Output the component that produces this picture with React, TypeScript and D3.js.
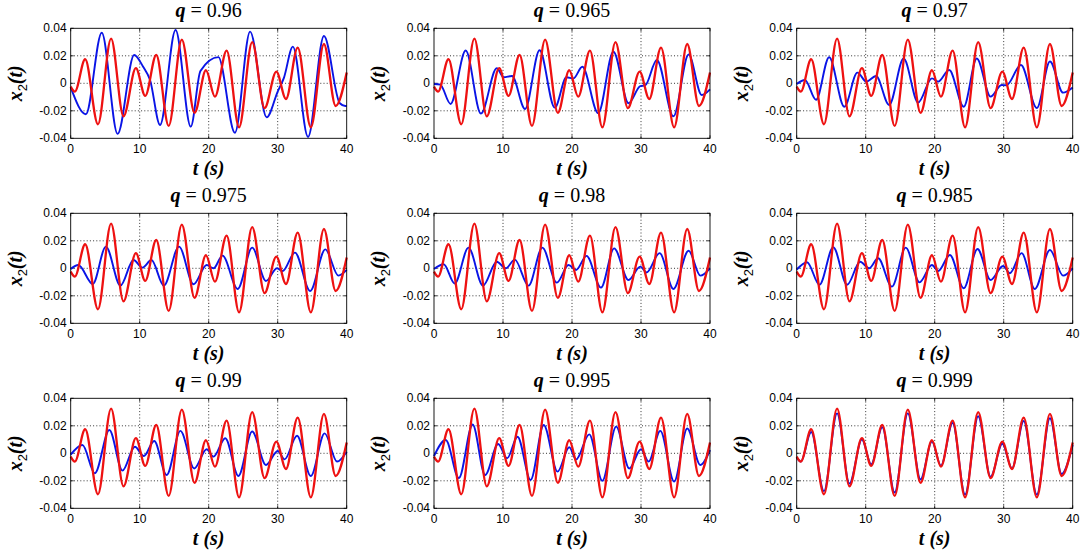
import React from 'react';
import * as d3 from 'd3';

type Pt = [number, number];

const Q_LABELS = ['0.96', '0.965', '0.97', '0.975', '0.98', '0.985', '0.99', '0.995', '0.999'];
const T_TICKS = [0, 10, 20, 30, 40];
const X2_TICKS = [-0.04, -0.02, 0, 0.02, 0.04];
const X2_TICK_LABELS = ['-0.04', '-0.02', '0', '0.02', '0.04'];

// Reference (red) response — identical in every panel
const RED: Pt[] = [
  [0, -0.0024], [0.6, -0.006], [2.1, 0.0175], [3.95, -0.0298], [5.85, 0.0325], [7.65, -0.024],
  [9.45, 0.011], [10.8, -0.0092], [12.4, 0.0206], [14.2, -0.031], [16.1, 0.0318], [17.95, -0.0215],
  [19.6, 0.0095], [20.9, -0.0097], [22.6, 0.0238], [24.4, -0.032], [26.3, 0.030], [28.1, -0.018],
  [29.8, 0.0085], [31.2, -0.0114], [32.9, 0.026], [34.8, -0.032], [36.7, 0.0286], [38.4, -0.0165],
  [40, 0.0078],
];

const BLUE_0960: Pt[] = [
  [0, -0.003], [2.2, -0.0225], [4.5, 0.0368], [6.8, -0.0368], [9.2, 0.0206], [10.5, 0.012],
  [11.5, 0.0024], [12.95, -0.0303], [15.2, 0.0388], [17.4, -0.0315], [18.8, 0.009], [21.4, 0.019],
  [23.8, -0.036], [26.0, 0.0376], [28.4, -0.0247], [30.0, -0.006], [30.9, 0.004], [32.2, 0.0267],
  [34.4, -0.039], [36.7, 0.0344], [39.0, -0.0145], [39.8, -0.0165], [40, -0.0165],
];
const BLUE_0965: Pt[] = [
  [0, -0.0005], [0.9, -0.001], [2.4, -0.015], [4.6, 0.0238], [6.8, -0.022], [9.1, 0.011],
  [10.1, 0.0044], [11.3, 0.0053], [13.2, -0.0187], [15.3, 0.024], [17.5, -0.0177], [19.2, 0.0044],
  [20.2, 0.0036], [21.5, 0.012], [23.8, -0.0218], [26.0, 0.023], [28.2, -0.0145], [29.9, -0.002],
  [30.6, -0.0015], [32.3, 0.017], [34.7, -0.024], [36.9, 0.021], [38.8, -0.0085], [40, -0.0044],
];
const BLUE_0970: Pt[] = [
  [0, -0.0005], [1.2, 0.0024], [2.8, -0.012], [4.7, 0.019], [6.9, -0.017], [8.8, 0.0078],
  [10.1, 0.0012], [11.5, 0.0053], [13.4, -0.0158], [15.5, 0.018], [17.6, -0.014], [19.6, 0.0036],
  [20.5, 0.0012], [22.1, 0.0097], [24.2, -0.017], [26.1, 0.018], [28.1, -0.0097], [29.7, -0.0012],
  [30.4, -0.0014], [32.5, 0.0133], [34.8, -0.018], [36.7, 0.0158], [38.6, -0.0068], [40, -0.003],
];
const BLUE_0975: Pt[] = [
  [0, -0.0005], [1.1, 0.0024], [3.2, -0.0114], [5.1, 0.0158], [7.2, -0.0126], [9.1, 0.006],
  [10.4, 0.0005], [11.7, 0.006], [13.5, -0.0126], [15.7, 0.0158], [17.8, -0.0116], [19.7, 0.0024],
  [20.7, 0.0], [22.0, 0.0092], [24.2, -0.015], [26.3, 0.015], [28.3, -0.0092], [29.9, 0.0],
  [30.7, -0.002], [32.5, 0.0114], [34.7, -0.0165], [36.9, 0.0138], [38.8, -0.0053], [40, -0.0012],
];
const BLUE_0980: Pt[] = [
  [0, -0.0005], [1.4, 0.003], [3.0, -0.011], [5.0, 0.015], [7.1, -0.0126], [9.1, 0.0048],
  [10.4, 0.0], [11.7, 0.0063], [13.7, -0.0126], [15.7, 0.015], [17.8, -0.0104], [19.5, 0.0024],
  [20.6, -0.0012], [22.1, 0.009], [24.2, -0.014], [26.1, 0.0145], [28.2, -0.0085], [29.9, 0.0012],
  [30.8, -0.003], [32.7, 0.011], [34.7, -0.015], [36.9, 0.0128], [38.6, -0.0053], [40, 0.0],
];
const BLUE_0985: Pt[] = [
  [0, -0.001], [1.5, 0.0044], [3.3, -0.012], [5.3, 0.0153], [7.3, -0.012], [9.2, 0.0048],
  [10.5, 0.0], [11.8, 0.0073], [13.8, -0.0133], [15.8, 0.015], [17.8, -0.0102], [19.6, 0.0024],
  [20.5, -0.002], [22.2, 0.0097], [24.2, -0.0145], [26.2, 0.014], [28.1, -0.0085], [29.9, 0.0017],
  [30.9, -0.0036], [32.6, 0.011], [34.5, -0.015], [36.7, 0.0133], [38.6, -0.0053], [40, 0.0],
];
const BLUE_0990: Pt[] = [
  [0, -0.001], [1.7, 0.006], [3.5, -0.0145], [5.6, 0.017], [7.5, -0.0126], [9.3, 0.0048],
  [10.6, -0.002], [12.1, 0.009], [13.9, -0.0158], [15.9, 0.0163], [17.9, -0.011], [19.7, 0.003],
  [20.7, -0.0024], [22.4, 0.011], [24.3, -0.0165], [26.3, 0.0158], [28.3, -0.0085], [30.0, 0.0017],
  [31.0, -0.0044], [32.8, 0.0128], [34.8, -0.0165], [36.8, 0.0145], [38.6, -0.006], [40, 0.0012],
];
const BLUE_0995: Pt[] = [
  [0, -0.002], [1.7, 0.0097], [3.6, -0.018], [5.6, 0.021], [7.4, -0.0158], [9.3, 0.0068],
  [10.6, -0.0036], [12.1, 0.012], [14.0, -0.0194], [15.9, 0.0206], [17.9, -0.0133], [19.6, 0.0044],
  [20.6, -0.0044], [22.5, 0.0138], [24.4, -0.020], [26.4, 0.0194], [28.3, -0.011], [30.0, 0.003],
  [31.1, -0.006], [32.8, 0.0163], [34.8, -0.0206], [36.7, 0.018], [38.6, -0.0085], [40, 0.0024],
];
const BLUE_0999: Pt[] = [
  [0, -0.003], [0.6, -0.006], [2.1, 0.0155], [3.95, -0.0275], [5.85, 0.029], [7.65, -0.022],
  [9.45, 0.010], [10.8, -0.008], [12.4, 0.019], [14.2, -0.0285], [16.1, 0.029], [17.95, -0.019],
  [19.6, 0.0085], [20.9, -0.009], [22.6, 0.022], [24.4, -0.030], [26.3, 0.027], [28.1, -0.017],
  [29.8, 0.007], [31.2, -0.011], [32.9, 0.0235], [34.8, -0.030], [36.7, 0.0255], [38.4, -0.015],
  [40, 0.006],
];

const BLUE_SERIES = [
  BLUE_0960, BLUE_0965, BLUE_0970, BLUE_0975, BLUE_0980, BLUE_0985, BLUE_0990, BLUE_0995, BLUE_0999,
];

const COL_LEFT = [70.7, 434, 796.7];
const ROW_TOP = [28.3, 213.3, 398.3];
const PW = 276;
const PH = 110;

const SANS = 'Liberation Sans';
const SERIF = 'Liberation Serif';

function Panel({ left, top, q, blue }: { left: number; top: number; q: string; blue: Pt[] }) {
  const x = d3.scaleLinear().domain([0, 40]).range([left, left + PW]);
  const y = d3.scaleLinear().domain([-0.04, 0.04]).range([top + PH, top]);
  const line = d3
    .line<Pt>()
    .x((d) => x(d[0]))
    .y((d) => y(d[1]))
    .curve(d3.curveMonotoneX);
  const tickLen = 3;
  return (
    <g>
      {T_TICKS.slice(1, -1).map((t) => (
        <line key={'gx' + t} x1={x(t)} x2={x(t)} y1={top} y2={top + PH} stroke="#000" strokeWidth={0.8} strokeDasharray="1,2.2" />
      ))}
      {X2_TICKS.slice(1, -1).map((v) => (
        <line key={'gy' + v} x1={left} x2={left + PW} y1={y(v)} y2={y(v)} stroke="#000" strokeWidth={0.8} strokeDasharray="1,2.2" />
      ))}
      {T_TICKS.map((t) => (
        <g key={'tx' + t}>
          <line x1={x(t)} x2={x(t)} y1={top + PH} y2={top + PH - tickLen} stroke="#000" strokeWidth={0.8} />
          <line x1={x(t)} x2={x(t)} y1={top} y2={top + tickLen} stroke="#000" strokeWidth={0.8} />
          <text x={x(t)} y={top + PH + 15} textAnchor="middle" fontFamily={SANS} fontSize={12} fill="#000">
            {t}
          </text>
        </g>
      ))}
      {X2_TICKS.map((v, i) => (
        <g key={'ty' + v}>
          <line x1={left} x2={left + tickLen} y1={y(v)} y2={y(v)} stroke="#000" strokeWidth={0.8} />
          <line x1={left + PW} x2={left + PW - tickLen} y1={y(v)} y2={y(v)} stroke="#000" strokeWidth={0.8} />
          <text x={left - 4} y={y(v) + 4} textAnchor="end" fontFamily={SANS} fontSize={12} fill="#000">
            {X2_TICK_LABELS[i]}
          </text>
        </g>
      ))}
      <path d={line(blue) || ''} fill="none" stroke="#0a14e6" strokeWidth={1.9} />
      <path d={line(RED) || ''} fill="none" stroke="#ee1111" strokeWidth={2.3} />
      <rect x={left} y={top} width={PW} height={PH} fill="none" stroke="#000" strokeWidth={0.9} />
      <text x={left + PW / 2} y={top - 11} textAnchor="middle" fontFamily={SERIF} fontSize={20} fill="#000">
        <tspan fontWeight="bold" fontStyle="italic">q</tspan>
        <tspan> = {q}</tspan>
      </text>
      <text x={left + PW / 2} y={top + PH + 37} textAnchor="middle" fontFamily={SERIF} fontSize={20} fontWeight="bold" fontStyle="italic" fill="#000">
        t (s)
      </text>
      <text transform={`translate(${left - 49},${top + PH / 2}) rotate(-90)`} textAnchor="middle" fontFamily={SERIF} fontSize={20} fill="#000">
        <tspan fontWeight="bold" fontStyle="italic">x</tspan>
        <tspan fontFamily={SANS} fontSize={13} dy={5}>2</tspan>
        <tspan fontWeight="bold" fontStyle="italic" dy={-5}>(t)</tspan>
      </text>
    </g>
  );
}

export default function App() {
  return (
    <svg width={1084} height={555} style={{ position: 'absolute', left: 0, top: 0, background: '#fff' }}>
      <rect x={0} y={0} width={1084} height={555} fill="#fff" />
      {Q_LABELS.map((q, i) => (
        <Panel key={q} left={COL_LEFT[i % 3]} top={ROW_TOP[Math.floor(i / 3)]} q={q} blue={BLUE_SERIES[i]} />
      ))}
    </svg>
  );
}
